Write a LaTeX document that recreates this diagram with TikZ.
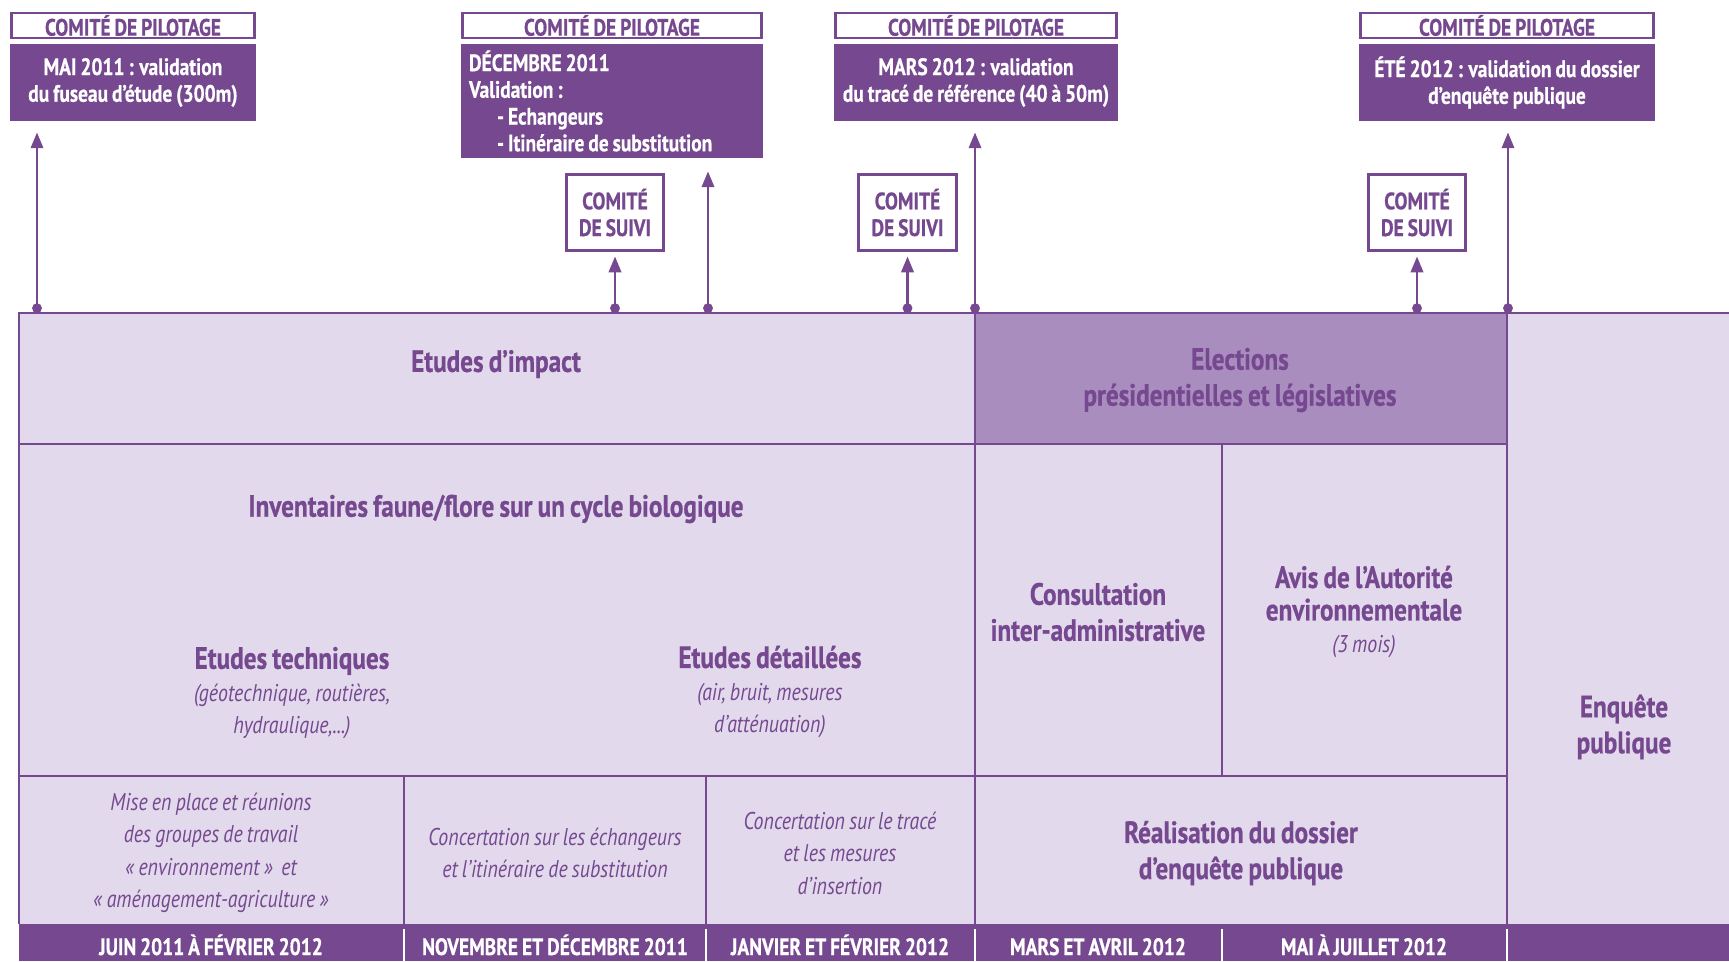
\documentclass[tikz,border=0pt]{standalone}
\usepackage{fontspec}
\setmainfont{PT Sans}[FakeStretch=0.82, WordSpace=0.8, BoldFeatures={FakeBold=0.6}]
\usetikzlibrary{arrows.meta}
\definecolor{prune}{HTML}{75488F}
\definecolor{lavande}{HTML}{E2D9EC}
\definecolor{mauve}{HTML}{A98DBE}
\newcommand{\titrefont}{\upshape\bfseries\fontsize{17.5}{20.5}\selectfont}
\newcommand{\boitefont}{\bfseries\fontsize{13.5}{15.2}\selectfont}
\newcommand{\detailfont}{\itshape\fontsize{13.8}{18.5}\selectfont}
\tikzset{
  pilotage/.style={draw=prune, line width=1.5pt, fill=white, text=prune, font=\boitefont,
    minimum height=0.5cm, inner sep=0pt},
  decision/.style={fill=prune, text=white, font=\boitefont, align=center, inner sep=0pt},
  suivi/.style={draw=prune, line width=1.5pt, fill=white, text=prune, font=\boitefont,
    align=center, minimum width=1.95cm, minimum height=1.53cm, inner sep=0pt},
  jalon/.style={prune, line width=1.5pt, {Circle[length=5.5pt]}-{Triangle[width=7pt,length=9pt]}},
  grille/.style={prune, line width=1.5pt},
  titre/.style={text=prune, font=\titrefont, align=center},
  detail/.style={text=prune, font=\detailfont, align=center},
  periode/.style={text=white, font=\boitefont, anchor=base}
}
\begin{document}
\begin{tikzpicture}[x=0.02cm,y=-0.02cm]
\useasboundingbox (0,0) rectangle (1729,961);

% tableau
\fill[lavande] (19,313) rectangle (1729,924);
\fill[mauve] (975,313) rectangle (1507,444);
\fill[prune] (19,924) rectangle (1729,961);
\draw[grille] (1729,313) -- (19,313) -- (19,924);
\draw[grille] (19,444) -- (1507,444)
              (19,776) -- (1507,776);
\draw[grille] (975,313) -- (975,924)
              (1507,313) -- (1507,924)
              (1222,444) -- (1222,776)
              (404,776) -- (404,924)
              (706,776) -- (706,924);
\foreach \x in {404,706,975,1222,1507}
  \draw[white, line width=1.1pt] (\x,929) -- (\x,961);

% comites de pilotage
\node[pilotage, minimum width=4.86cm] (p1) at (133,25.5) {COMITÉ DE PILOTAGE};
\node[pilotage, minimum width=5.98cm] (p2) at (612,25.5) {COMITÉ DE PILOTAGE};
\node[pilotage, minimum width=5.62cm] (p3) at (976,25.5) {COMITÉ DE PILOTAGE};
\node[pilotage, minimum width=5.86cm] (p4) at (1507,25.5) {COMITÉ DE PILOTAGE};
\node[decision, minimum width=4.92cm, minimum height=1.54cm] (d1) at (133,82.5)
  {MAI 2011 : validation\\du fuseau d’étude (300m)};
\node[decision, minimum width=6.04cm, minimum height=2.28cm, align=flush left, text width=5.72cm] (d2) at (612,101)
  {DÉCEMBRE 2011\\Validation :\\\hspace*{0.56cm}- Echangeurs\\\hspace*{0.56cm}- Itinéraire de substitution};
\node[decision, minimum width=5.68cm, minimum height=1.54cm] (d3) at (976,82.5)
  {MARS 2012 : validation\\du tracé de référence (40 à 50m)};
\node[decision, minimum width=5.92cm, minimum height=1.54cm] (d4) at (1507,82.5)
  {ÉTÉ 2012 : validation du dossier\\d’enquête publique};

% comites de suivi
\node[suivi] (s1) at (615,212.5) {COMITÉ\\DE SUIVI};
\node[suivi] (s2) at (907.5,212.5) {COMITÉ\\DE SUIVI};
\node[suivi] (s3) at (1417,212.5) {COMITÉ\\DE SUIVI};

% jalons
\coordinate (axe) at (0,313);
\coordinate (j1) at (37,313);
\coordinate (j2) at (708,313);
\coordinate (j3) at (975,313);
\coordinate (j4) at (1508,313);
\draw[jalon, shorten >=6.3pt] (j1) -- (j1 |- d1.south);
\draw[jalon, shorten >=7.4pt] (j2) -- (j2 |- d2.south);
\draw[jalon, shorten >=6.3pt] (j3) -- (j3 |- d3.south);
\draw[jalon, shorten >=6.3pt] (j4) -- (j4 |- d4.south);
\foreach \s in {s1,s2,s3}
  \draw[jalon, shorten >=2.5pt] (\s |- axe) -- (\s.south);

% etapes
\node[titre] (impact) at (496,364) {Etudes d’impact};
\node[titre] (inventaires) at (496,509) {Inventaires faune/flore sur un cycle biologique};
\node[detail] (techniques) at (292,693)
  {{\titrefont Etudes techniques}\\(géotechnique, routières,\\hydraulique,...)};
\node[detail] (detaillees) at (770,692)
  {{\titrefont Etudes détaillées}\\(air, bruit, mesures\\d’atténuation)};
\node[titre] (elections) at (1240,380) {Elections\\présidentielles et législatives};
\node[titre] (consultation) at (1098,612) {Consultation\\inter-administrative};
\node[detail] (avis) at (1364,612)
  {{\titrefont Avis de l’Autorité}\\{\titrefont environnementale}\\(3 mois)};
\node[titre] (enquete) at (1624,727) {Enquête\\publique};
\node[detail] (groupes) at (211,853)
  {Mise en place et réunions\\des groupes de travail\\« environnement »~ et\\« aménagement-agriculture »};
\node[detail] (echangeurs) at (555,853)
  {Concertation sur les échangeurs\\et l’itinéraire de substitution};
\node[detail] (trace) at (840,853)
  {Concertation sur le tracé\\et les mesures\\d’insertion};
\node[titre] (dossier) at (1241,853) {Réalisation du dossier\\d’enquête publique};

% periodes
\node[periode] (m1) at (211,955) {JUIN 2011 À FÉVRIER 2012};
\node[periode] (m2) at (555,955) {NOVEMBRE ET DÉCEMBRE 2011};
\node[periode] (m3) at (840,955) {JANVIER ET FÉVRIER 2012};
\node[periode] (m4) at (1098,955) {MARS ET AVRIL 2012};
\node[periode] (m5) at (1364,955) {MAI À JUILLET 2012};
\end{tikzpicture}
\end{document}
